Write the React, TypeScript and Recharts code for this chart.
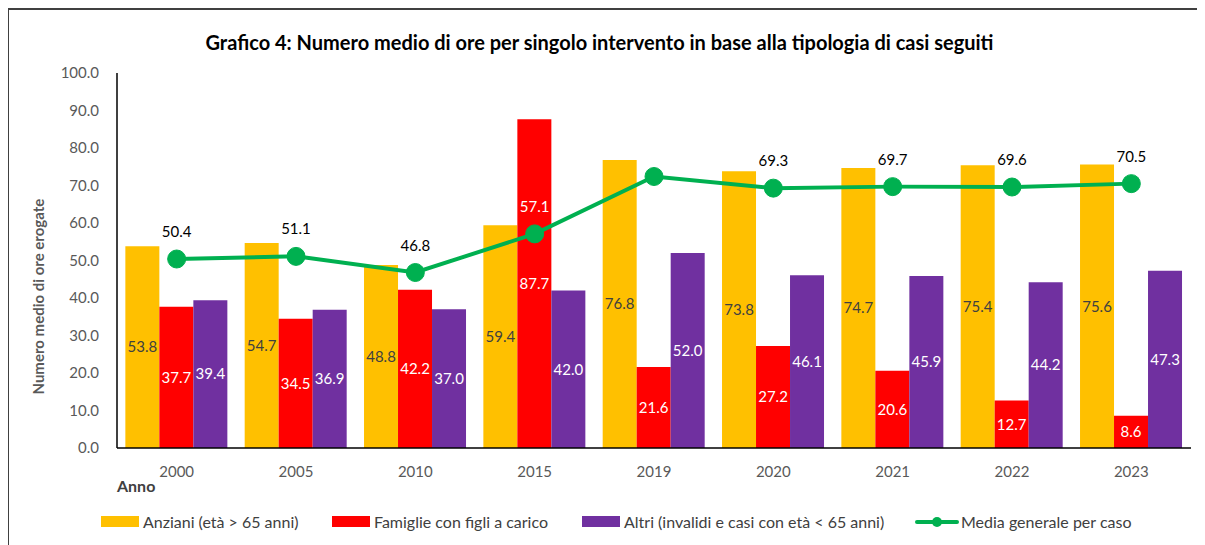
import { ComposedChart, Bar, Line, XAxis, YAxis, LabelList } from 'recharts';

const anni = ['2000', '2005', '2010', '2015', '2019', '2020', '2021', '2022', '2023'];
const anziani = [53.8, 54.7, 48.8, 59.4, 76.8, 73.8, 74.7, 75.4, 75.6];
const famiglie = [37.7, 34.5, 42.2, 87.7, 21.6, 27.2, 20.6, 12.7, 8.6];
const altri = [39.4, 36.9, 37.0, 42.0, 52.0, 46.1, 45.9, 44.2, 47.3];
const media = [50.4, 51.1, 46.8, 57.1, 72.4, 69.3, 69.7, 69.6, 70.5];
const yTicks = [0, 10, 20, 30, 40, 50, 60, 70, 80, 90, 100];

const data = anni.map((anno, i) => ({
  anno,
  anziani: anziani[i],
  famiglie: famiglie[i],
  altri: altri[i],
  media: media[i],
}));

const FONT = 'Lato, "Liberation Sans", sans-serif';
const fmt = (v: any) => Number(v).toFixed(1);

// labels above the green line; 2019 has none in the original, 2015 sits on the red bar
const MediaLabel = (props: any) => {
  const { x, y, value, index } = props;
  if (anni[index] === '2019') return null;
  return (
    <text
      x={x}
      y={y - 22}
      textAnchor="middle"
      fontSize={15}
      fontFamily={FONT}
      fill={anni[index] === '2015' ? '#ffffff' : '#000000'}
    >
      {fmt(value)}
    </text>
  );
};

const legendItems = [
  { label: 'Anziani (età > 65 anni)', color: '#FFC000', type: 'bar', left: 92 },
  { label: 'Famiglie con figli a carico', color: '#FF0000', type: 'bar', left: 323 },
  { label: 'Altri (invalidi e casi con età < 65 anni)', color: '#7030A0', type: 'bar', left: 573 },
  { label: 'Media generale per caso', color: '#00B050', type: 'line', left: 906 },
];

export default function App() {
  return (
    <div
      style={{
        position: 'relative',
        width: 1197,
        height: 545,
        borderLeft: '1px solid #404040',
        borderTop: '2px solid #404040',
        boxSizing: 'border-box',
        background: '#fff',
        fontFamily: FONT,
        overflow: 'hidden',
      }}
    >
      <style>{'html, body { overflow: hidden; }'}</style>
      <div
        style={{
          position: 'absolute',
          top: 20,
          left: 0,
          width: '100%',
          textAlign: 'center',
          fontSize: 20,
          fontWeight: 700,
          color: '#000',
          paddingRight: 15,
          boxSizing: 'border-box',
        }}
      >
        Grafico 4: Numero medio di ore per singolo intervento in base alla tipologia di casi seguiti
      </div>

      <ComposedChart
        width={1196}
        height={543}
        data={data}
        margin={{ top: 63, right: 14, bottom: 75, left: 48 }}
        barCategoryGap="7%"
        barGap={0}
      >
        <XAxis
          dataKey="anno"
          axisLine={{ stroke: '#000', strokeWidth: 1.5 }}
          tickLine={false}
          tick={{ fill: '#595959', fontSize: 15, fontFamily: FONT }}
          tickMargin={12}
          height={30}
        />
        <YAxis
          domain={[0, 100]}
          ticks={yTicks}
          interval={0}
          tickFormatter={fmt}
          axisLine={{ stroke: '#000', strokeWidth: 1.5 }}
          tickLine={false}
          tick={{ fill: '#595959', fontSize: 15, fontFamily: FONT }}
          tickMargin={12}
          width={60}
          label={{
            value: 'Numero medio di ore erogate',
            angle: -90,
            position: 'insideLeft',
            dx: -23,
            dy: 134,
            style: { fill: '#595959', fontSize: 15, fontWeight: 700, fontFamily: FONT },
          }}
        />
        <Bar dataKey="anziani" fill="#FFC000" isAnimationActive={false}>
          <LabelList dataKey="anziani" position="center" formatter={fmt} fill="#404040" fontSize={15} fontFamily={FONT} />
        </Bar>
        <Bar dataKey="famiglie" fill="#FF0000" isAnimationActive={false}>
          <LabelList dataKey="famiglie" position="center" formatter={fmt} fill="#ffffff" fontSize={15} fontFamily={FONT} />
        </Bar>
        <Bar dataKey="altri" fill="#7030A0" isAnimationActive={false}>
          <LabelList dataKey="altri" position="center" formatter={fmt} fill="#ffffff" fontSize={15} fontFamily={FONT} />
        </Bar>
        <Line
          dataKey="media"
          stroke="#00B050"
          strokeWidth={4}
          dot={{ r: 9, fill: '#00B050', stroke: '#00B050', strokeWidth: 1 }}
          activeDot={false}
          isAnimationActive={false}
        >
          <LabelList dataKey="media" content={MediaLabel} />
        </Line>
      </ComposedChart>

      <div
        style={{
          position: 'absolute',
          top: 466,
          left: 108,
          fontSize: 16,
          fontWeight: 700,
          color: '#404040',
        }}
      >
        Anno
      </div>

      {legendItems.map((it) => (
        <div
          key={it.label}
          style={{
            position: 'absolute',
            top: 502,
            left: it.left,
            display: 'flex',
            alignItems: 'center',
            fontSize: 16,
            color: '#404040',
            whiteSpace: 'nowrap',
          }}
        >
          {it.type === 'bar' ? (
            <span style={{ display: 'inline-block', width: 38, height: 11, background: it.color, marginRight: 4 }} />
          ) : (
            <svg width={44} height={14} style={{ marginRight: 2 }}>
              <line x1={2} y1={7} x2={42} y2={7} stroke={it.color} strokeWidth={4} strokeLinecap="round" />
              <circle cx={22} cy={7} r={5} fill={it.color} />
            </svg>
          )}
          <span>{it.label}</span>
        </div>
      ))}
    </div>
  );
}
